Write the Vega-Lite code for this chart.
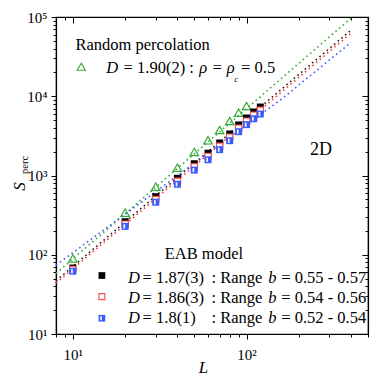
{
  "$schema": "https://vega.github.io/schema/vega-lite/v6.json",
  "width": 312,
  "height": 317,
  "autosize": {"type": "none"},
  "padding": {"left": 56, "top": 17, "right": 14, "bottom": 48},
  "config": {
    "view": {"stroke": "black", "strokeWidth": 1.2},
    "font": "'Liberation Serif', 'Times New Roman', serif",
    "text": {"font": "'Liberation Serif', 'Times New Roman', serif"},
    "axis": {"grid": false, "domainColor": "black", "tickColor": "black", "labelColor": "black", "titleColor": "black", "domainWidth": 1.2, "tickWidth": 1, "labelFont": "'Liberation Serif', 'Times New Roman', serif", "titleFont": "'Liberation Serif', 'Times New Roman', serif", "labelOverlap": false, "labelFlush": false, "labelBound": false}
  },
  "datasets": {
    "fits": [
      {"series": "perc", "L": 8, "S": 58}, {"series": "perc", "L": 400, "S": 97000},
      {"series": "b055", "L": 8, "S": 47}, {"series": "b055", "L": 400, "S": 68500},
      {"series": "b054", "L": 8, "S": 44}, {"series": "b054", "L": 400, "S": 62800},
      {"series": "b052", "L": 8, "S": 74}, {"series": "b052", "L": 160, "S": 9300}, {"series": "b052", "L": 400, "S": 48000}
    ],
    "perc": [
      {"L": 10, "S": 90}, {"L": 20, "S": 340}, {"L": 30, "S": 722}, {"L": 40, "S": 1253}, {"L": 50, "S": 1980},
      {"L": 60, "S": 2780}, {"L": 70, "S": 3750}, {"L": 80, "S": 4870}, {"L": 90, "S": 6200}, {"L": 100, "S": 7530}
    ],
    "eab": [
      {"series": "b055", "L": 10, "S": 68}, {"series": "b055", "L": 20, "S": 261}, {"series": "b055", "L": 30, "S": 540}, {"series": "b055", "L": 40, "S": 923},
      {"series": "b055", "L": 50, "S": 1409}, {"series": "b055", "L": 60, "S": 1910}, {"series": "b055", "L": 70, "S": 2570}, {"series": "b055", "L": 80, "S": 3340},
      {"series": "b055", "L": 90, "S": 4340}, {"series": "b055", "L": 100, "S": 5320}, {"series": "b055", "L": 110, "S": 6330}, {"series": "b055", "L": 120, "S": 7310},
      {"series": "b054", "L": 10, "S": 65}, {"series": "b054", "L": 20, "S": 243}, {"series": "b054", "L": 30, "S": 498}, {"series": "b054", "L": 40, "S": 845},
      {"series": "b054", "L": 50, "S": 1285}, {"series": "b054", "L": 60, "S": 1745}, {"series": "b054", "L": 70, "S": 2340}, {"series": "b054", "L": 80, "S": 3040},
      {"series": "b054", "L": 90, "S": 3950}, {"series": "b054", "L": 100, "S": 4840}, {"series": "b054", "L": 110, "S": 5760}, {"series": "b054", "L": 120, "S": 6650},
      {"series": "b052", "L": 10, "S": 62}, {"series": "b052", "L": 20, "S": 228}, {"series": "b052", "L": 30, "S": 460}, {"series": "b052", "L": 40, "S": 775},
      {"series": "b052", "L": 50, "S": 1170}, {"series": "b052", "L": 60, "S": 1580}, {"series": "b052", "L": 70, "S": 2120}, {"series": "b052", "L": 80, "S": 2750},
      {"series": "b052", "L": 90, "S": 3570}, {"series": "b052", "L": 100, "S": 4380}, {"series": "b052", "L": 110, "S": 5200}, {"series": "b052", "L": 120, "S": 5960}
    ],
    "keys": [
      {"series": "perc", "L": 11.18, "S": 23600},
      {"series": "b055", "L": 14.7, "S": 54.7},
      {"series": "b054", "L": 14.7, "S": 29.6},
      {"series": "b052", "L": 14.7, "S": 15.8}
    ],
    "notes": [
      {"role": "text", "text": "Random percolation", "L": 10.36, "S": 38330},
      {"role": "var", "text": "D", "L": 15.58, "S": 19830},
      {"role": "text", "text": "= 1.90(2) :", "L": 19.6, "S": 19830},
      {"role": "var", "text": "ρ = ρ", "L": 53.5, "S": 19830},
      {"role": "sub", "text": "c", "L": 85.0, "S": 15260},
      {"role": "text", "text": "= 0.5", "L": 93.0, "S": 19830},
      {"role": "panel", "text": "2D", "L": 231.7, "S": 1814},
      {"role": "text", "text": "EAB model", "L": 33.8, "S": 87.6},
      {"role": "var", "text": "D", "L": 20.76, "S": 43.6},
      {"role": "text", "text": "= 1.87(3)", "L": 25.2, "S": 43.6},
      {"role": "text", "text": ": Range", "L": 62.84, "S": 43.6},
      {"role": "var", "text": "b", "L": 133.2, "S": 43.6},
      {"role": "text", "text": "= 0.55 - 0.57", "L": 158.5, "S": 43.6},
      {"role": "var", "text": "D", "L": 20.76, "S": 24.8},
      {"role": "text", "text": "= 1.86(3)", "L": 25.2, "S": 24.8},
      {"role": "text", "text": ": Range", "L": 62.84, "S": 24.8},
      {"role": "var", "text": "b", "L": 133.2, "S": 24.8},
      {"role": "text", "text": "= 0.54 - 0.56", "L": 158.5, "S": 24.8},
      {"role": "var", "text": "D", "L": 20.76, "S": 13.9},
      {"role": "text", "text": "= 1.8(1)", "L": 25.2, "S": 13.9},
      {"role": "text", "text": ": Range", "L": 62.84, "S": 13.9},
      {"role": "var", "text": "b", "L": 133.2, "S": 13.9},
      {"role": "text", "text": "= 0.52 - 0.54", "L": 158.5, "S": 13.9},
      {"role": "axissub", "text": "perc", "L": 5.7, "S": 1357}
    ]
  },
  "layer": [
    {
      "data": {"name": "fits"},
      "mark": {"type": "line", "strokeDash": [1.6, 3.2], "strokeWidth": 1.6},
      "encoding": {
        "x": {"field": "L", "type": "quantitative", "scale": {"type": "log", "domain": [8, 500], "nice": false},
          "axis": {"orient": "bottom", "values": [8, 9, 10, 20, 30, 40, 50, 60, 70, 80, 90, 100, 200, 300, 400, 500],
            "labelExpr": "datum.value == 10 ? '10¹' : datum.value == 100 ? '10²' : ''",
            "tickSize": {"condition": {"test": "datum.value == 10 || datum.value == 100", "value": 5}, "value": 3},
            "labelFontSize": 15, "labelPadding": 8, "labelBaseline": "top",
            "title": "L", "titleFontStyle": "italic", "titleFontWeight": "normal", "titleFontSize": 17,
            "titleX": 147, "titleY": 38, "titleBaseline": "alphabetic", "titleAlign": "center"}},
        "y": {"field": "S", "type": "quantitative", "scale": {"type": "log", "domain": [10, 100000], "nice": false},
          "axis": {"orient": "left", "values": [10, 20, 30, 40, 50, 60, 70, 80, 90, 100, 200, 300, 400, 500, 600, 700, 800, 900, 1000, 2000, 3000, 4000, 5000, 6000, 7000, 8000, 9000, 10000, 20000, 30000, 40000, 50000, 60000, 70000, 80000, 90000, 100000],
            "labelExpr": "datum.value == 10 ? '10¹' : datum.value == 100 ? '10²' : datum.value == 1000 ? '10³' : datum.value == 10000 ? '10⁴' : datum.value == 100000 ? '10⁵' : ''",
            "tickSize": {"condition": {"test": "datum.value == 10 || datum.value == 100 || datum.value == 1000 || datum.value == 10000 || datum.value == 100000", "value": 5}, "value": 3},
            "labelFontSize": 15, "labelPadding": 4,
            "title": "S", "titleFontStyle": "italic", "titleFontWeight": "normal", "titleFontSize": 17,
            "titleX": -28, "titleY": 169, "titleAngle": 270, "titleBaseline": "bottom", "titleAlign": "center"}},
        "color": {"field": "series", "type": "nominal", "legend": null,
          "scale": {"domain": ["perc", "b055", "b054", "b052"], "range": ["#3aaa3a", "#222222", "#ff3b3b", "#3a5cff"]}}
      }
    },
    {
      "data": {"name": "perc"},
      "mark": {"type": "point", "shape": "triangle-up", "filled": false, "size": 72, "strokeWidth": 1.2, "color": "#33aa33", "opacity": 1},
      "encoding": {
        "x": {"field": "L", "type": "quantitative", "scale": {"type": "log", "domain": [8, 500], "nice": false},
          "axis": {"orient": "top", "values": [8, 9, 10, 20, 30, 40, 50, 60, 70, 80, 90, 100, 200, 300, 400, 500], "labels": false, "title": null,
            "tickSize": {"condition": {"test": "datum.value == 10 || datum.value == 100", "value": -6}, "value": -3}}},
        "y": {"field": "S", "type": "quantitative", "scale": {"type": "log", "domain": [10, 100000], "nice": false},
          "axis": {"orient": "right", "values": [10, 20, 30, 40, 50, 60, 70, 80, 90, 100, 200, 300, 400, 500, 600, 700, 800, 900, 1000, 2000, 3000, 4000, 5000, 6000, 7000, 8000, 9000, 10000, 20000, 30000, 40000, 50000, 60000, 70000, 80000, 90000, 100000], "labels": false, "title": null,
            "tickSize": {"condition": {"test": "datum.value == 10 || datum.value == 100 || datum.value == 1000 || datum.value == 10000 || datum.value == 100000", "value": -6}, "value": -3}}}
      }
    },
    {
      "data": {"name": "keys"},
      "transform": [{"filter": "datum.series == 'perc'"}],
      "mark": {"type": "point", "shape": "triangle-up", "filled": false, "size": 66, "strokeWidth": 1.1, "color": "#33aa33", "opacity": 1},
      "encoding": {
        "x": {"field": "L", "type": "quantitative", "axis": null},
        "y": {"field": "S", "type": "quantitative", "axis": null}
      }
    },
    {
      "data": {"name": "eab"},
      "transform": [{"filter": "datum.series == 'b055'"}],
      "mark": {"type": "point", "shape": "square", "filled": true, "size": 49, "color": "black", "opacity": 1},
      "encoding": {
        "x": {"field": "L", "type": "quantitative", "axis": null},
        "y": {"field": "S", "type": "quantitative", "axis": null}
      }
    },
    {
      "data": {"name": "eab"},
      "transform": [{"filter": "datum.series == 'b054'"}],
      "mark": {"type": "point", "shape": "square", "filled": true, "size": 40, "fill": "white", "stroke": "#ff4b4b", "strokeWidth": 1.1, "opacity": 1},
      "encoding": {
        "x": {"field": "L", "type": "quantitative", "axis": null},
        "y": {"field": "S", "type": "quantitative", "axis": null}
      }
    },
    {
      "data": {"name": "eab"},
      "transform": [{"filter": "datum.series == 'b052'"}],
      "mark": {"type": "point", "shape": "square", "filled": true, "size": 49, "color": "#3a5cff", "opacity": 1},
      "encoding": {
        "x": {"field": "L", "type": "quantitative", "axis": null},
        "y": {"field": "S", "type": "quantitative", "axis": null}
      }
    },
    {
      "data": {"name": "eab"},
      "transform": [{"filter": "datum.series == 'b052'"}],
      "mark": {"type": "point", "shape": "M-0.5,-0.6L0,-0.6L0,0.6L-0.5,0.6Z", "filled": true, "size": 49, "color": "#eef1ff", "opacity": 1},
      "encoding": {
        "x": {"field": "L", "type": "quantitative", "axis": null},
        "y": {"field": "S", "type": "quantitative", "axis": null}
      }
    },
    {
      "data": {"name": "keys"},
      "transform": [{"filter": "datum.series == 'b055'"}],
      "mark": {"type": "point", "shape": "square", "filled": true, "size": 45, "color": "black", "opacity": 1},
      "encoding": {
        "x": {"field": "L", "type": "quantitative", "axis": null},
        "y": {"field": "S", "type": "quantitative", "axis": null}
      }
    },
    {
      "data": {"name": "keys"},
      "transform": [{"filter": "datum.series == 'b054'"}],
      "mark": {"type": "point", "shape": "square", "filled": true, "size": 36, "fill": "white", "stroke": "#ff4b4b", "strokeWidth": 1.1, "opacity": 1},
      "encoding": {
        "x": {"field": "L", "type": "quantitative", "axis": null},
        "y": {"field": "S", "type": "quantitative", "axis": null}
      }
    },
    {
      "data": {"name": "keys"},
      "transform": [{"filter": "datum.series == 'b052'"}],
      "mark": {"type": "point", "shape": "square", "filled": true, "size": 45, "color": "#3a5cff", "opacity": 1},
      "encoding": {
        "x": {"field": "L", "type": "quantitative", "axis": null},
        "y": {"field": "S", "type": "quantitative", "axis": null}
      }
    },
    {
      "data": {"name": "keys"},
      "transform": [{"filter": "datum.series == 'b052'"}],
      "mark": {"type": "point", "shape": "M-0.5,-0.6L0,-0.6L0,0.6L-0.5,0.6Z", "filled": true, "size": 45, "color": "#eef1ff", "opacity": 1},
      "encoding": {
        "x": {"field": "L", "type": "quantitative", "axis": null},
        "y": {"field": "S", "type": "quantitative", "axis": null}
      }
    },
    {
      "data": {"name": "notes"},
      "transform": [{"filter": "datum.role == 'text'"}],
      "mark": {"type": "text", "align": "left", "baseline": "alphabetic", "fontSize": 16.5, "color": "black"},
      "encoding": {
        "x": {"field": "L", "type": "quantitative", "axis": null},
        "y": {"field": "S", "type": "quantitative", "axis": null},
        "text": {"field": "text"}
      }
    },
    {
      "data": {"name": "notes"},
      "transform": [{"filter": "datum.role == 'var'"}],
      "mark": {"type": "text", "align": "left", "baseline": "alphabetic", "fontSize": 16.5, "fontStyle": "italic", "color": "black"},
      "encoding": {
        "x": {"field": "L", "type": "quantitative", "axis": null},
        "y": {"field": "S", "type": "quantitative", "axis": null},
        "text": {"field": "text"}
      }
    },
    {
      "data": {"name": "notes"},
      "transform": [{"filter": "datum.role == 'sub'"}],
      "mark": {"type": "text", "align": "left", "baseline": "alphabetic", "fontSize": 9, "fontStyle": "italic", "color": "black"},
      "encoding": {
        "x": {"field": "L", "type": "quantitative", "axis": null},
        "y": {"field": "S", "type": "quantitative", "axis": null},
        "text": {"field": "text"}
      }
    },
    {
      "data": {"name": "notes"},
      "transform": [{"filter": "datum.role == 'panel'"}],
      "mark": {"type": "text", "align": "left", "baseline": "alphabetic", "fontSize": 18, "color": "black"},
      "encoding": {
        "x": {"field": "L", "type": "quantitative", "axis": null},
        "y": {"field": "S", "type": "quantitative", "axis": null},
        "text": {"field": "text"}
      }
    },
    {
      "data": {"name": "notes"},
      "transform": [{"filter": "datum.role == 'axissub'"}],
      "mark": {"type": "text", "align": "center", "baseline": "bottom", "angle": 270, "fontSize": 10.5, "color": "black"},
      "encoding": {
        "x": {"field": "L", "type": "quantitative", "axis": null},
        "y": {"field": "S", "type": "quantitative", "axis": null},
        "text": {"field": "text"}
      }
    }
  ],
  "resolve": {"axis": {"x": "independent", "y": "independent"}}
}
